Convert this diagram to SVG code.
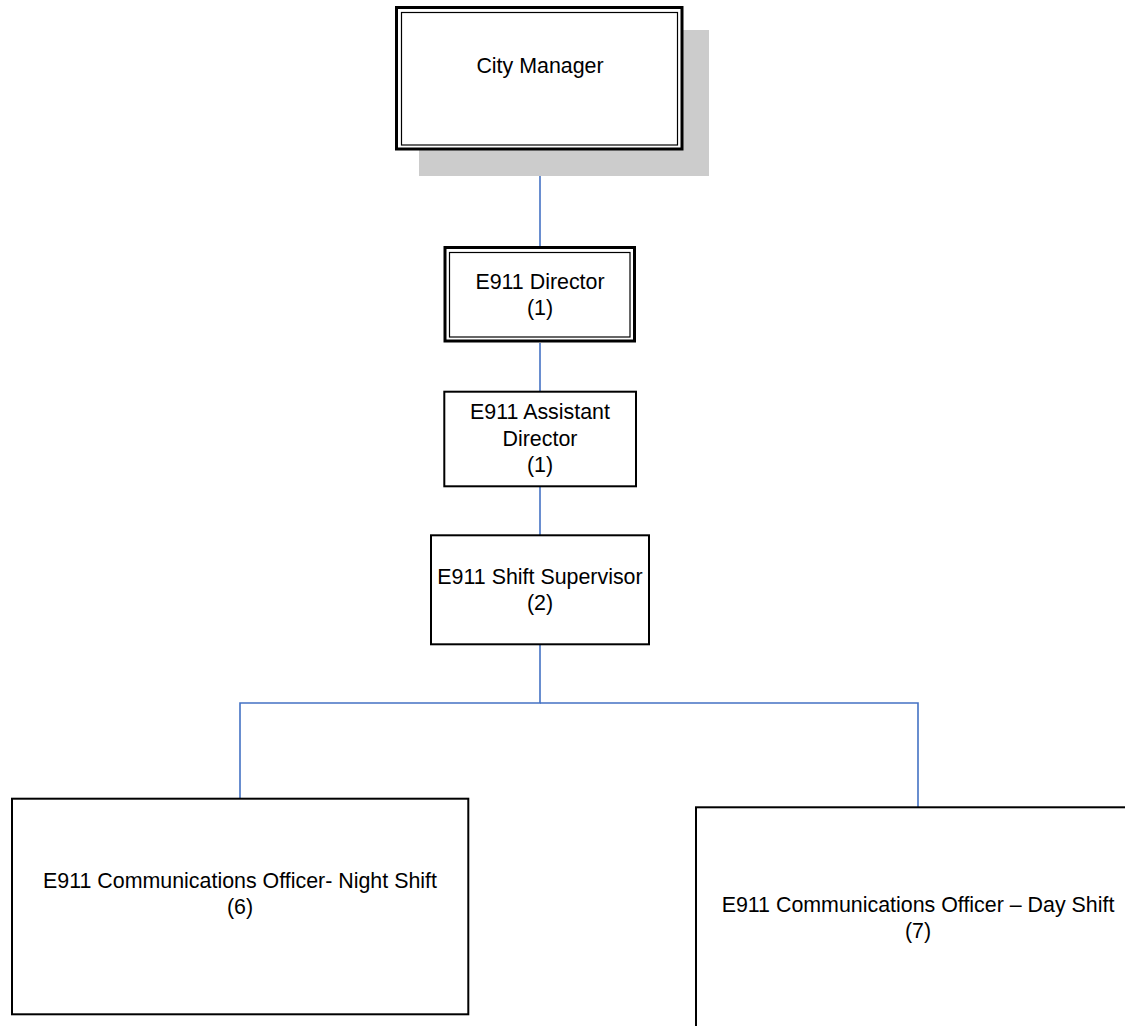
<svg xmlns="http://www.w3.org/2000/svg" width="1125" height="1026" viewBox="0 0 1125 1026">
  <style>
    .box { fill: #ffffff; stroke: #000000; stroke-width: 2; }
    .outer { fill: #ffffff; stroke: #000000; stroke-width: 3; }
    .inner { fill: none; stroke: #000000; stroke-width: 1.2; }
    .shadow { fill: #cccccc; }
    .label { font-family: "Liberation Sans", Arial, sans-serif; font-size: 21.4px; fill: #000000; text-anchor: middle; }
    .link { fill: none; stroke: #4472c4; stroke-width: 1.6; }
  </style>

  <!-- connectors -->
  <g id="connectors">
    <line class="link" x1="540" y1="150" x2="540" y2="246"/>
    <line class="link" x1="540" y1="343" x2="540" y2="391"/>
    <line class="link" x1="540" y1="487" x2="540" y2="535"/>
    <polyline class="link" points="540,645 540,703 240,703 240,798"/>
    <polyline class="link" points="540,703 918,703 918,807"/>
  </g>

  <!-- City Manager (with drop shadow and double border) -->
  <g id="city-manager">
    <rect class="shadow" x="419" y="30" width="290" height="146"/>
    <rect class="outer" x="396.5" y="7.5" width="285.5" height="141.5"/>
    <rect class="inner" x="401.5" y="12.5" width="276" height="132.5"/>
    <text class="label" x="540" y="73">City Manager</text>
  </g>

  <!-- E911 Director (double border) -->
  <g id="e911-director">
    <rect class="outer" x="445" y="247.5" width="189.5" height="93.5"/>
    <rect class="inner" x="449.5" y="252.5" width="180.5" height="84.5"/>
    <text class="label" x="540" y="289">E911 Director</text>
    <text class="label" x="540" y="315">(1)</text>
  </g>

  <!-- E911 Assistant Director -->
  <g id="e911-assistant-director">
    <rect class="box" x="444.3" y="391.7" width="191.7" height="94.6"/>
    <text class="label" x="540" y="419">E911 Assistant</text>
    <text class="label" x="540" y="445.5">Director</text>
    <text class="label" x="540" y="471.5">(1)</text>
  </g>

  <!-- E911 Shift Supervisor -->
  <g id="e911-shift-supervisor">
    <rect class="box" x="431" y="535.3" width="218" height="109"/>
    <text class="label" x="540" y="584">E911 Shift Supervisor</text>
    <text class="label" x="540" y="610">(2)</text>
  </g>

  <!-- Night shift officers -->
  <g id="officer-night-shift">
    <rect class="box" x="12" y="798.7" width="456.3" height="215.6"/>
    <text class="label" x="240" y="888">E911 Communications Officer- Night Shift</text>
    <text class="label" x="240" y="914">(6)</text>
  </g>

  <!-- Day shift officers (runs past the right and bottom edges) -->
  <g id="officer-day-shift">
    <rect class="box" x="696" y="807.3" width="444" height="230"/>
    <text class="label" x="918" y="912">E911 Communications Officer – Day Shift</text>
    <text class="label" x="918" y="938">(7)</text>
  </g>
</svg>
